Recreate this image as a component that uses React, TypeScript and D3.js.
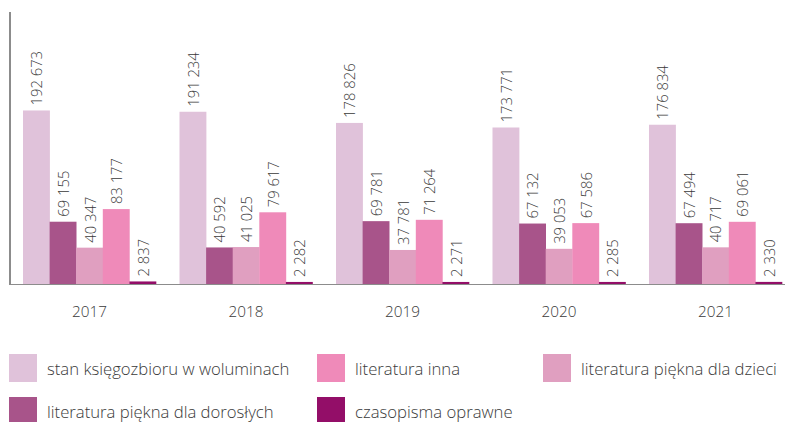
import React from "react";
import * as d3 from "d3";

const years = ["2017", "2018", "2019", "2020", "2021"];
const seriesNames = [
  "stan księgozbioru w woluminach",
  "literatura piękna dla dorosłych",
  "literatura piękna dla dzieci",
  "literatura inna",
  "czasopisma oprawne",
];
const stan = [192673, 191234, 178826, 173771, 176834];
const dorosli = [69155, 40592, 69781, 67132, 67494];
const dzieci = [40347, 41025, 37781, 39053, 40717];
const inna = [83177, 79617, 71264, 67586, 69061];
const czasopisma = [2837, 2282, 2271, 2285, 2330];
const seriesValues = [stan, dorosli, dzieci, inna, czasopisma];
const colors = ["#e0c2da", "#a8548a", "#e09fc0", "#ef8ab9", "#930e68"];

// legend layout: [series index, column, row]
const legendOrder: [number, number, number][] = [
  [0, 0, 0],
  [3, 1, 0],
  [2, 2, 0],
  [1, 0, 1],
  [4, 1, 1],
];

const W = 785;
const H = 422;
const FONT = "'Open Sans', sans-serif";

function fmt(v: number) {
  const s = String(v);
  return s.replace(/\B(?=(\d{3})+(?!\d))/g, " ");
}

export default function App() {
  const x0 = d3
    .scaleBand<string>()
    .domain(years)
    .range([10, 795])
    .paddingInner(0.15)
    .paddingOuter(0.083);
  const x1 = d3
    .scaleBand<number>()
    .domain(d3.range(seriesNames.length))
    .range([0, x0.bandwidth()]);
  const y = d3.scaleLinear().domain([0, 302000]).range([284, 12]);

  const legendCols = [9, 317, 543];
  const legendRows = [354, 397];

  return (
    <svg
      width={W}
      height={H}
      style={{ position: "absolute", left: 0, top: 0, background: "#fff" }}
      fontFamily={FONT}
    >
      {years.map((yr, gi) => (
        <g key={yr} transform={`translate(${x0(yr)},0)`}>
          {seriesValues.map((vals, si) => {
            const v = vals[gi];
            const bx = x1(si)!;
            const bw = x1.bandwidth();
            const top = y(v);
            const cx = bx + bw / 2;
            return (
              <g key={si}>
                <rect x={bx} y={top} width={bw + 0.3} height={y(0) - top} fill={colors[si]} />
                <text
                  transform={`translate(${cx},${top - 5}) rotate(-90)`}
                  fontSize={14.8}
                  fill="#3a3a3a"
                  dominantBaseline="central"
                  fontWeight={300}
                >
                  {fmt(v)}
                </text>
              </g>
            );
          })}
          <text
            x={x0.bandwidth() / 2}
            y={317}
            textAnchor="middle"
            fontSize={15.3}
            fill="#3a3a3a"
            fontWeight={300}
          >
            {yr}
          </text>
        </g>
      ))}
      <line x1={10} x2={10} y1={12} y2={285} stroke="#8c8c8c" strokeWidth={2} />
      <line x1={9} x2={W} y1={284.5} y2={284.5} stroke="#8c8c8c" strokeWidth={1} />
      {legendOrder.map(([si, c, r]) => (
        <g key={si} transform={`translate(${legendCols[c]},${legendRows[r]})`}>
          <rect x={0} y={0} width={28} height={28} fill={colors[si]} />
          <text x={38} y={14} dominantBaseline="central" fontSize={16.7} fill="#3a3a3a" fontWeight={300}>
            {seriesNames[si]}
          </text>
        </g>
      ))}
    </svg>
  );
}
